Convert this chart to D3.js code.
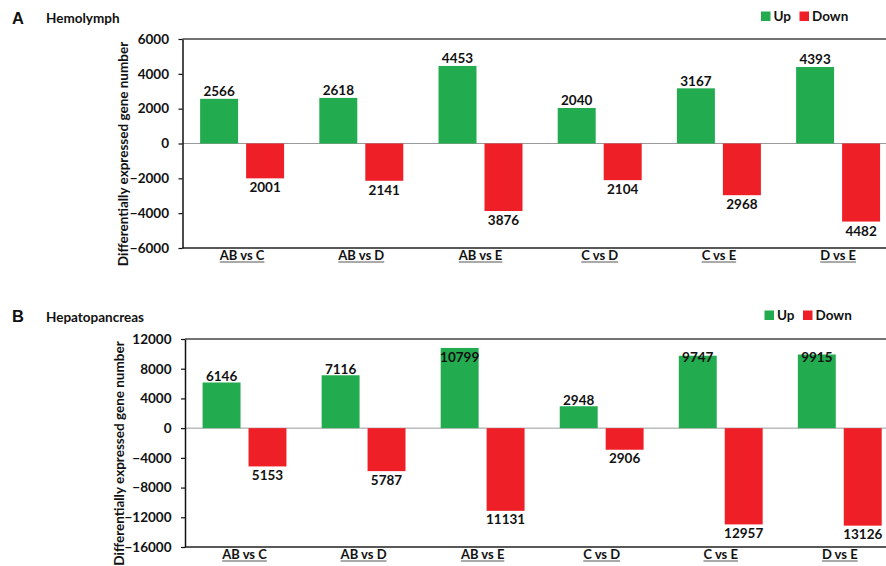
<!DOCTYPE html>
<html>
<head>
<meta charset="utf-8">
<script src="https://cdn.jsdelivr.net/npm/d3@7"></script>
<style>
  html, body { margin: 0; padding: 0; background: #fff; }
  svg { display: block; }
  text { font-family: Lato, "Open Sans", sans-serif; font-weight: bold; fill: #111; }
</style>
</head>
<body>
<svg id="chart" width="886" height="566"></svg>
<script>
// Comparisons shown on the x axis
const categories = ["AB vs C", "AB vs D", "AB vs E", "C vs D", "C vs E", "D vs E"];
const seriesNames = ["Up", "Down"];

// Hemolymph: numbers of up- and down-regulated genes
const hemolymphUp = [2566, 2618, 4453, 2040, 3167, 4393];
const hemolymphDown = [2001, 2141, 3876, 2104, 2968, 4482];
const hemolymphTicks = [6000, 4000, 2000, 0, -2000, -4000, -6000];

// Hepatopancreas: numbers of up- and down-regulated genes
const hepatopancreasUp = [6146, 7116, 10799, 2948, 9747, 9915];
const hepatopancreasDown = [5153, 5787, 11131, 2906, 12957, 13126];
const hepatopancreasTicks = [12000, 8000, 4000, 0, -4000, -8000, -12000, -16000];

const colors = { Up: "#23ab4f", Down: "#ee1f26" };

const svg = d3.select("#chart");

const panels = [
  {
    letter: "A", title: "Hemolymph", up: hemolymphUp, down: hemolymphDown, ticks: hemolymphTicks,
    top: 39, bottom: 248, left: 182.5, step: 119.2,
    letterY: 23.5, titleY: 22.5, legendX: 761, legendY: 11.5,
    upOffset: 2.5, downOffset: 14, titleX: 128
  },
  {
    letter: "B", title: "Hepatopancreas", up: hepatopancreasUp, down: hepatopancreasDown, ticks: hepatopancreasTicks,
    top: 339, bottom: 547, left: 185, step: 119.05,
    letterY: 321.7, titleY: 321.5, legendX: 764.5, legendY: 310.5,
    upOffset: 1.5, downOffset: 13.5, titleX: 124
  }
];

panels.forEach(p => {
  const g = svg.append("g");
  const domain = [d3.min(p.ticks), d3.max(p.ticks)];
  const y = d3.scaleLinear().domain(domain).range([p.bottom, p.top]);
  const x0 = d3.scaleBand().domain(categories)
    .range([p.left, p.left + p.step * categories.length]).padding(0);
  const x1 = d3.scaleBand().domain(seriesNames)
    .range([0, x0.bandwidth()]).paddingInner(0.174).paddingOuter(0.383);

  const plotRight = x0.range()[1];

  // Panel letter and tissue name
  g.append("text").attr("x", 12).attr("y", p.letterY)
    .style("font-family", "'Liberation Sans', Arial, sans-serif")
    .style("font-size", "16.5px").text(p.letter);
  g.append("text").attr("x", 46).attr("y", p.titleY)
    .style("font-size", "13.5px").text(p.title);

  // Legend
  const leg = g.append("g").attr("transform", `translate(${p.legendX},${p.legendY})`);
  const legItems = [{ k: "Up", dx: 0 }, { k: "Down", dx: 38.5 }];
  legItems.forEach(it => {
    leg.append("rect").attr("x", it.dx).attr("y", 0).attr("width", 9.5).attr("height", 9.5)
      .attr("fill", colors[it.k]);
    leg.append("text").attr("x", it.dx + 12.5).attr("y", 9.3)
      .style("font-size", "13.5px").text(it.k);
  });

  // Frame: top border and bottom line
  g.append("line").attr("x1", p.left).attr("x2", plotRight)
    .attr("y1", p.top).attr("y2", p.top)
    .attr("stroke", "#444").attr("stroke-width", 1.5);
  g.append("line").attr("x1", p.left).attr("x2", plotRight)
    .attr("y1", p.bottom).attr("y2", p.bottom)
    .attr("stroke", "#222").attr("stroke-width", 1.5);

  // Zero baseline
  g.append("line").attr("x1", p.left).attr("x2", plotRight)
    .attr("y1", y(0)).attr("y2", y(0))
    .attr("stroke", "#9a9a9a").attr("stroke-width", 1);

  // Bars
  const rows = categories.map((c, i) => ({ c, Up: p.up[i], Down: p.down[i] }));
  const groups = g.selectAll("g.grp").data(rows).join("g")
    .attr("class", "grp").attr("transform", d => `translate(${x0(d.c)},0)`);

  groups.append("rect")
    .attr("x", x1("Up")).attr("width", x1.bandwidth())
    .attr("y", d => y(d.Up)).attr("height", d => y(0) - y(d.Up))
    .attr("fill", colors.Up);
  groups.append("rect")
    .attr("x", x1("Down")).attr("width", x1.bandwidth())
    .attr("y", y(0)).attr("height", d => y(-d.Down) - y(0))
    .attr("fill", colors.Down);

  // Value labels: above the up bars (inside when no room), below the down bars
  groups.append("text")
    .attr("x", x1("Up") + x1.bandwidth() / 2)
    .attr("y", d => Math.max(y(d.Up) - p.upOffset, p.top + 22.5))
    .attr("text-anchor", "middle").style("font-size", "13.5px")
    .text(d => d.Up);
  groups.append("text")
    .attr("x", x1("Down") + x1.bandwidth() / 2)
    .attr("y", d => y(-d.Down) + p.downOffset)
    .attr("text-anchor", "middle").style("font-size", "13.5px")
    .text(d => d.Down);

  // Y axis
  const yAxis = d3.axisLeft(y).tickValues(p.ticks).tickSize(4).tickSizeOuter(0)
    .tickPadding(9.5).tickFormat(d3.format("d"));
  const ax = g.append("g").attr("transform", `translate(${p.left},0)`).call(yAxis);
  ax.select(".domain").attr("stroke", "#111").attr("stroke-width", 1.5);
  ax.selectAll(".tick line").attr("stroke", "#111").attr("stroke-width", 1.2);
  ax.selectAll(".tick text")
    .style("font-family", "Lato, sans-serif").style("font-weight", "bold")
    .style("font-size", "13.5px").attr("fill", "#111");

  // Category labels with underline
  const cats = g.selectAll("g.cat").data(categories).join("g").attr("class", "cat");
  cats.each(function (c) {
    const cg = d3.select(this);
    const cx = x0(c) + x0.bandwidth() / 2;
    const t = cg.append("text").attr("x", cx).attr("y", p.bottom + 11.5)
      .attr("text-anchor", "middle").style("font-size", "13px").text(c);
    const w = t.node().getComputedTextLength();
    cg.append("line").attr("x1", cx - w / 2).attr("x2", cx + w / 2)
      .attr("y1", p.bottom + 14).attr("y2", p.bottom + 14)
      .attr("stroke", "#555").attr("stroke-width", 1);
  });

  // Y axis title
  const midY = (p.top + p.bottom) / 2 + 10.5;
  g.append("text")
    .attr("transform", `translate(${p.titleX},${midY}) rotate(-90)`)
    .attr("text-anchor", "middle").style("font-size", "13.5px")
    .text("Differentially expressed gene number");
});
</script>
</body>
</html>
